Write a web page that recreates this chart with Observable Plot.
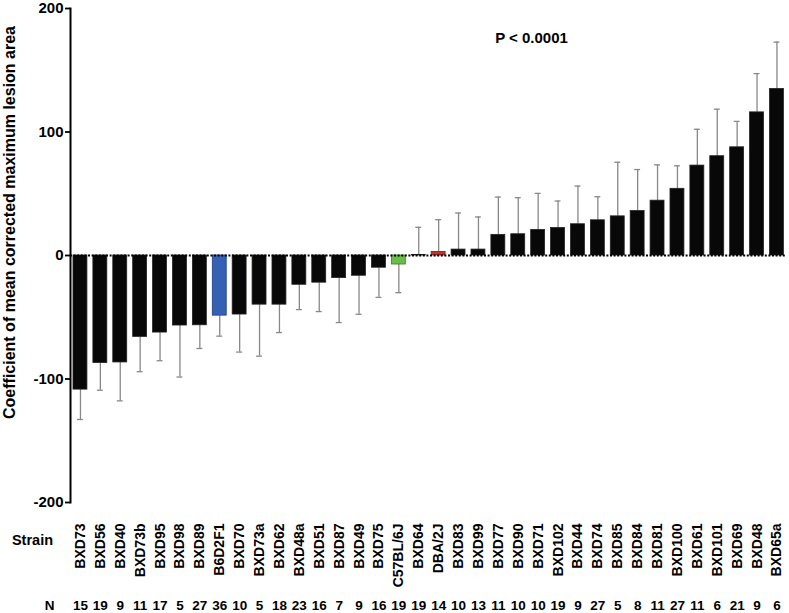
<!DOCTYPE html>
<html>
<head>
<meta charset="utf-8">
<script src="https://cdn.jsdelivr.net/npm/d3@7"></script>
<script src="https://cdn.jsdelivr.net/npm/@observablehq/plot@0.6"></script>
<style>
  html, body { margin: 0; padding: 0; background: #fff; }
  #chart { width: 789px; height: 613px; }
</style>
</head>
<body>
<div id="chart"></div>
<script>
const strains = ["BXD73","BXD56","BXD40","BXD73b","BXD95","BXD98","BXD89","B6D2F1","BXD70","BXD73a","BXD62","BXD48a","BXD51","BXD87","BXD49","BXD75","C57BL/6J","BXD64","DBA/2J","BXD83","BXD99","BXD77","BXD90","BXD71","BXD102","BXD44","BXD74","BXD85","BXD84","BXD81","BXD100","BXD61","BXD101","BXD69","BXD48","BXD65a"];
const means = [-108.6,-87.1,-86.6,-65.9,-62.4,-56.7,-56.5,-48.7,-47.8,-39.8,-39.8,-23.7,-22.0,-18.3,-16.4,-9.9,-7.3,0.5,2.9,4.8,4.8,16.7,17.2,20.7,22.3,25.3,28.5,31.7,36.0,44.4,54.0,72.8,80.4,87.6,115.9,134.9];
const sds = [24.2,22.0,31.1,28.2,22.8,41.7,18.8,16.6,30.4,41.7,22.6,20.1,23.4,36.0,31.2,24.0,22.8,22.3,26.1,29.6,26.4,30.6,29.6,29.6,21.8,30.9,19.1,43.8,33.6,29.0,18.6,29.4,38.1,21.0,31.4,37.9];
const ns = [15,19,9,11,17,5,27,36,10,5,18,23,16,7,9,16,19,19,14,10,13,11,10,10,19,9,27,5,8,11,27,11,6,21,9,6];
const yTicks = [-200,-100,0,100,200];
const highlight = {"B6D2F1": "#3461b3", "C57BL/6J": "#69bf45", "DBA/2J": "#c4342c"};
const highlightStroke = {"B6D2F1": "#1d3f80", "C57BL/6J": "#3c7a25", "DBA/2J": "#7a1a14"};
const yLabel = "Coefficient of mean corrected maximum lesion area";
const pLabel = "P < 0.0001";

const data = strains.map((s, i) => ({
  strain: s, mean: means[i], sd: sds[i], n: ns[i],
  end: means[i] + (means[i] < 0 ? -sds[i] : sds[i])
}));

const font = "'Liberation Sans', Arial, sans-serif";

const chart = Plot.plot({
  width: 789,
  height: 613,
  marginLeft: 70,
  marginRight: 2.6,
  marginTop: 8,
  marginBottom: 111,
  style: {fontFamily: font, fontWeight: "bold", fontSize: "14px", color: "#000", background: "#fff"},
  x: {domain: strains, paddingInner: 0.3, paddingOuter: 0.15, axis: null},
  y: {domain: [-200, 200], axis: null},
  marks: [
    Plot.ruleX(data, {x: "strain", y1: "mean", y2: "end", stroke: "#888", strokeWidth: 1.3}),
    Plot.tickY(data, {x: "strain", y: "end", stroke: "#888", strokeWidth: 1.3, insetLeft: 4, insetRight: 4}),
    Plot.barY(data, {
      x: "strain", y: "mean",
      fill: d => highlight[d.strain] || "#080808",
      stroke: d => highlightStroke[d.strain] || "#222",
      strokeWidth: 0.8
    }),
    Plot.ruleY([0], {stroke: "#000", strokeWidth: 2, strokeDasharray: "2,1.6"}),
    Plot.frame({anchor: "left", stroke: "#000", strokeWidth: 2}),
    Plot.axisY({ticks: yTicks, tickFormat: d => String(d), tickSize: 5, tickPadding: 2, strokeWidth: 1.8, fontSize: 15, fontWeight: "bold", label: null}),
    Plot.text([yLabel], {text: d => d, frameAnchor: "left", rotate: -90, dx: -61, dy: -33, textAnchor: "middle", fontSize: 16, fontWeight: "bold"}),
    Plot.text([pLabel], {text: d => d, frameAnchor: "top-left", dx: 461, dy: 24, textAnchor: "middle", fontSize: 15, fontWeight: "bold"}),
    Plot.text(data, {x: "strain", text: "strain", frameAnchor: "bottom", dy: 21, rotate: -90, textAnchor: "end", lineAnchor: "middle", fontSize: 14, fontWeight: "bold"}),
    Plot.text(data, {x: "strain", text: d => String(d.n), frameAnchor: "bottom", dy: 103.5, textAnchor: "middle", lineAnchor: "middle", fontSize: 13.5, fontWeight: "bold"}),
    Plot.text(["Strain"], {text: d => d, frameAnchor: "bottom-left", dx: -38, dy: 38, textAnchor: "middle", lineAnchor: "middle", fontSize: 14.5, fontWeight: "bold"}),
    Plot.text(["N"], {text: d => d, frameAnchor: "bottom-left", dx: -21, dy: 103.5, textAnchor: "middle", lineAnchor: "middle", fontSize: 13.5, fontWeight: "bold"})
  ]
});
document.getElementById("chart").append(chart);
</script>
</body>
</html>
